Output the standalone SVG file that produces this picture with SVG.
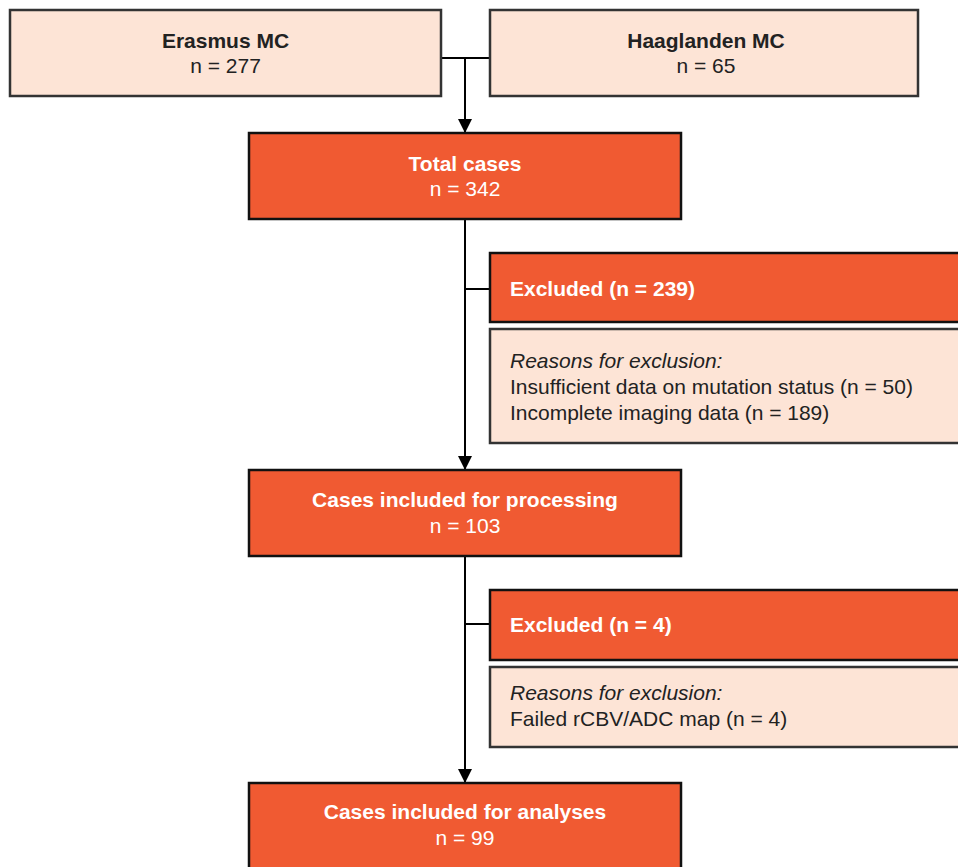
<svg xmlns="http://www.w3.org/2000/svg" width="958" height="867" viewBox="0 0 958 867">
<style>
.peach{fill:#fde4d6;stroke:#333;stroke-width:2.5}
.orange{fill:#f05a32;stroke:#111;stroke-width:2.5}
text{font-family:"Liberation Sans",Arial,sans-serif;font-size:21px}
.dk{fill:#222}
.wt{fill:#fff}
.b{font-weight:bold}
.i{font-style:italic}
.c{text-anchor:middle}
.ln{fill:none;stroke:#000;stroke-width:2}
</style>
<defs>
<marker id="arr" viewBox="0 0 14 14" refX="14" refY="7" markerWidth="14" markerHeight="14" markerUnits="userSpaceOnUse" orient="auto"><path d="M0,0L14,7L0,14z" fill="#000"/></marker>
</defs>
<g id="connectors">
<path class="ln" d="M441,58H490"/>
<path class="ln" d="M465,58V133" marker-end="url(#arr)"/>
<path class="ln" d="M465,219V470" marker-end="url(#arr)"/>
<path class="ln" d="M465,289H490"/>
<path class="ln" d="M465,556V783" marker-end="url(#arr)"/>
<path class="ln" d="M465,624H490"/>
</g>
<g id="erasmus">
<rect class="peach" x="10" y="10" width="431" height="86"/>
<text class="dk b c" x="225.5" y="48">Erasmus MC</text>
<text class="dk c" x="225.5" y="73">n = 277</text>
</g>
<g id="haaglanden">
<rect class="peach" x="490" y="10" width="428" height="86"/>
<text class="dk b c" x="706" y="48">Haaglanden MC</text>
<text class="dk c" x="706" y="73">n = 65</text>
</g>
<g id="total">
<rect class="orange" x="249" y="133" width="432" height="86"/>
<text class="wt b c" x="465" y="171">Total cases</text>
<text class="wt c" x="465" y="196">n = 342</text>
</g>
<g id="excluded1">
<rect class="orange" x="490" y="253" width="480" height="69"/>
<text class="wt b" x="510" y="296">Excluded (n = 239)</text>
</g>
<g id="reasons1">
<rect class="peach" x="490" y="329" width="480" height="114"/>
<text class="dk i" x="510" y="368">Reasons for exclusion:</text>
<text class="dk" x="510" y="394">Insufficient data on mutation status (n = 50)</text>
<text class="dk" x="510" y="420">Incomplete imaging data (n = 189)</text>
</g>
<g id="processing">
<rect class="orange" x="249" y="470" width="432" height="86"/>
<text class="wt b c" x="465" y="507">Cases included for processing</text>
<text class="wt c" x="465" y="533">n = 103</text>
</g>
<g id="excluded2">
<rect class="orange" x="490" y="590" width="480" height="70"/>
<text class="wt b" x="510" y="632">Excluded (n = 4)</text>
</g>
<g id="reasons2">
<rect class="peach" x="490" y="667" width="480" height="80"/>
<text class="dk i" x="510" y="700">Reasons for exclusion:</text>
<text class="dk" x="510" y="726">Failed rCBV/ADC map (n = 4)</text>
</g>
<g id="analyses">
<rect class="orange" x="249" y="783" width="432" height="100"/>
<text class="wt b c" x="465" y="819">Cases included for analyses</text>
<text class="wt c" x="465" y="845">n = 99</text>
</g>
</svg>
